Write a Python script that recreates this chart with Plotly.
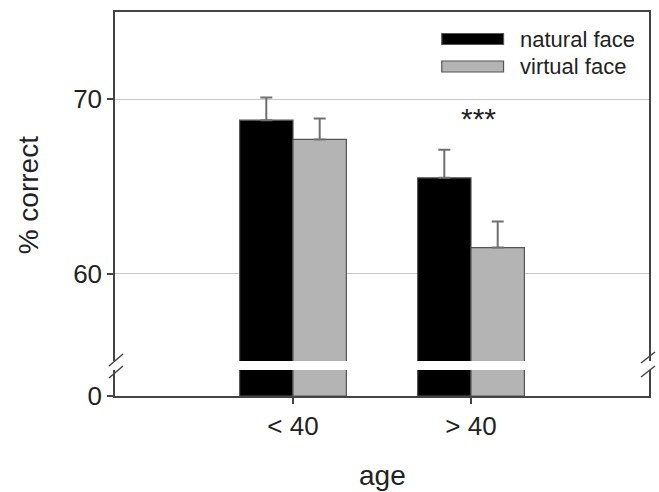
import plotly.graph_objects as go

categories = ["< 40", "> 40"]
natural_face = [68.8, 65.5]
natural_err = [1.3, 1.6]
virtual_face = [67.7, 61.5]
virtual_err = [1.2, 1.5]
series_names = ["natural face", "virtual face"]
y_ticks_upper = [60, 70]
y_ticks_lower = [0]

FONT = "Liberation Sans, Arial, sans-serif"
BLACK = "#000000"
GRAY = "#b4b4b4"
AXIS = "#444444"

W, H = 659, 492
L, R, T, B = 115, 8, 12, 96
PW = W - L - R
PH = H - T - B


def px_x(px):
    return (px - L) / PW


def px_y(py):
    return (H - B - py) / PH


fig = go.Figure()

for vals, errs, col, line_col, name in [
    (natural_face, natural_err, BLACK, "#555555", series_names[0]),
    (virtual_face, virtual_err, GRAY, "#555555", series_names[1]),
]:
    # upper segment
    fig.add_trace(go.Bar(
        x=categories, y=vals, name=name, xaxis="x2", yaxis="y2",
        marker=dict(color=col, line=dict(color=line_col, width=1.2)),
        error_y=dict(type="data", array=errs, arrayminus=[0] * len(errs),
                     symmetric=False, color="#707070", thickness=2, width=6),
        showlegend=False,
    ))
    # lower segment
    fig.add_trace(go.Bar(
        x=categories, y=vals, name=name, xaxis="x", yaxis="y",
        marker=dict(color=col, line=dict(color=line_col, width=1.2)),
        showlegend=False,
    ))

upper_bottom = px_y(361)
lower_top = px_y(370)

fig.update_layout(
    width=W, height=H, autosize=False,
    margin=dict(l=L, r=R, t=T, b=B),
    paper_bgcolor="white", plot_bgcolor="white",
    font=dict(family=FONT, color="#222222"),
    barmode="group", bargap=0.4, bargroupgap=0,
    showlegend=False,
    xaxis=dict(
        domain=[0, 1], anchor="y", type="category", range=[-1, 2],
        showline=True, linecolor=AXIS, linewidth=1.5,
        ticks="outside", ticklen=6, tickcolor=AXIS, tickwidth=1.5,
        tickfont=dict(size=26, family=FONT),
        showgrid=False, zeroline=False,
    ),
    xaxis2=dict(
        domain=[0, 1], anchor="y2", matches="x", type="category", range=[-1, 2],
        side="top", showline=True, linecolor=AXIS, linewidth=1.5,
        showticklabels=False, ticks="", showgrid=False, zeroline=False,
    ),
    yaxis=dict(
        domain=[0, lower_top], range=[0, 1], tickvals=y_ticks_lower,
        showline=True, mirror=True, linecolor=AXIS, linewidth=1.5,
        ticks="outside", ticklen=6, tickcolor=AXIS, tickwidth=1.5,
        tickfont=dict(size=26, family=FONT),
        showgrid=False, zeroline=False,
    ),
    yaxis2=dict(
        domain=[upper_bottom, 1], range=[55, 75], tickvals=y_ticks_upper,
        showline=True, mirror=True, linecolor=AXIS, linewidth=1.5,
        ticks="outside", ticklen=6, tickcolor=AXIS, tickwidth=1.5,
        tickfont=dict(size=26, family=FONT),
        showgrid=True, gridcolor="#c8c8c8", gridwidth=1, zeroline=False,
    ),
)

# axis titles
fig.add_annotation(text="% correct", xref="paper", yref="paper",
                   x=px_x(28), y=px_y(195), textangle=-90, showarrow=False,
                   font=dict(size=28, family=FONT, color="#222222"),
                   xanchor="center", yanchor="middle")
fig.add_annotation(text="age", xref="paper", yref="paper",
                   x=px_x(383), y=px_y(475), showarrow=False,
                   font=dict(size=28, family=FONT, color="#222222"),
                   xanchor="center", yanchor="middle")

# significance
fig.add_annotation(text="***", xref="x2", yref="y2", x=categories[1], y=68.9,
                   xshift=7, showarrow=False,
                   font=dict(size=30, family=FONT, color="#222222"),
                   xanchor="center", yanchor="middle")

# axis break marks
for (x0, y0, x1, y1) in [(109, 366, 123, 354), (109, 378, 123, 366),
                         (643, 363, 657, 352), (643, 377, 657, 366)]:
    fig.add_shape(type="line", xref="paper", yref="paper",
                  x0=px_x(x0), y0=px_y(y0), x1=px_x(x1), y1=px_y(y1),
                  line=dict(color=AXIS, width=1.5))

# custom legend
for (ytop, ybot, col, ytxt, name) in [(33.5, 44.5, BLACK, 39, series_names[0]),
                                      (61, 72, GRAY, 67, series_names[1])]:
    fig.add_shape(type="rect", xref="paper", yref="paper",
                  x0=px_x(443), x1=px_x(505), y0=px_y(ybot), y1=px_y(ytop),
                  fillcolor=col, line=dict(color="#555555", width=1.2))
    fig.add_annotation(text=name, xref="paper", yref="paper",
                       x=px_x(520), y=px_y(ytxt), showarrow=False,
                       xanchor="left", yanchor="middle",
                       font=dict(size=22, family=FONT, color="#222222"))

fig.write_html(
    "out.html",
    config={"responsive": False, "displayModeBar": False},
    post_script="document.body.style.margin='0';document.body.style.overflow='hidden';",
)
